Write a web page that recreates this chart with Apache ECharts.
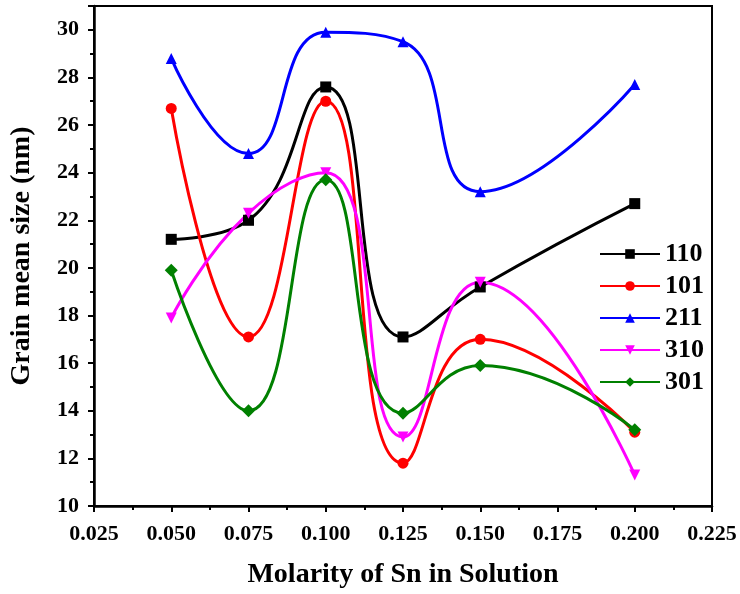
<!DOCTYPE html>
<html><head><meta charset="utf-8">
<script src="https://cdn.jsdelivr.net/npm/echarts@6/dist/echarts.min.js"></script>
<style>html,body{margin:0;padding:0;background:#fff}#c{width:740px;height:594px}</style>
</head><body><div id="c"></div>
<script>
const molarity = [0.050, 0.075, 0.100, 0.125, 0.150, 0.200];
const s110 = [21.2, 22.0, 27.6, 17.1, 19.2, 22.7];
const s101 = [26.7, 17.1, 27.0, 11.8, 17.0, 13.1];
const s211 = [28.8, 24.8, 29.9, 29.5, 23.2, 27.7];
const s310 = [17.9, 22.3, 24.0, 12.9, 19.4, 11.3];
const s301 = [19.9, 14.0, 23.7, 13.9, 15.9, 13.2];
const seriesNames = ['110', '101', '211', '310', '301'];
const seriesData = [s110, s101, s211, s310, s301];
const colors = ['#000000', '#ff0000', '#0000ff', '#ff00ff', '#008000'];
const symbols = ['rect', 'circle', 'triangle', 'path://M0,0 L10,0 L5,10 Z', 'diamond'];

const font = 'Liberation Serif';
const chart = echarts.init(document.getElementById('c'));
chart.setOption({
  animation: false,
  color: colors,
  grid: {left: 92, right: 28, top: 6, bottom: 87, show: true, borderColor: '#000', borderWidth: 2, backgroundColor: 'transparent'},
  legend: {
    orient: 'vertical', left: 594, top: 236, itemWidth: 60, itemHeight: 12, itemGap: 6,
    textStyle: {fontFamily: font, fontWeight: 'bold', fontSize: 26, color: '#000'},
    data: seriesNames
  },
  xAxis: {
    type: 'value', min: 0.025, max: 0.225, interval: 0.025,
    name: 'Molarity of Sn in Solution', nameLocation: 'middle', nameGap: 55,
    nameTextStyle: {fontFamily: font, fontWeight: 'bold', fontSize: 28, color: '#000'},
    axisLine: {onZero: false, lineStyle: {color: '#000', width: 2.5}},
    axisTick: {show: true, inside: false, length: 6, lineStyle: {width: 2}},
    minorTick: {show: true, splitNumber: 2, length: 4, lineStyle: {color: '#000', width: 2}},
    splitLine: {show: false},
    axisLabel: {margin: 17, fontFamily: font, fontWeight: 'bold', fontSize: 22, color: '#000',
      formatter: v => v.toFixed(3)}
  },
  yAxis: {
    type: 'value', min: 10, max: 31, interval: 2,
    name: 'Grain mean size (nm)', nameLocation: 'middle', nameGap: 58,
    nameTextStyle: {fontFamily: font, fontWeight: 'bold', fontSize: 28, color: '#000'},
    axisLine: {onZero: false, lineStyle: {color: '#000', width: 2.5}},
    axisTick: {show: true, inside: false, length: 6, lineStyle: {width: 2}},
    minorTick: {show: true, splitNumber: 2, length: 4, lineStyle: {color: '#000', width: 2}},
    splitLine: {show: false},
    axisLabel: {margin: 15, fontFamily: font, fontWeight: 'bold', fontSize: 22, color: '#000',
      formatter: v => (v % 2 === 0 ? String(v) : '')}
  },
  series: seriesNames.map((n, i) => ({
    name: n, type: 'line', smooth: 0.5,
    data: molarity.map((x, j) => [x, seriesData[i][j]]),
    symbol: symbols[i], symbolSize: i === 4 ? 13 : 11,
    lineStyle: {width: 3, color: colors[i]},
    itemStyle: {color: colors[i]}
  }))
});
</script></body></html>
